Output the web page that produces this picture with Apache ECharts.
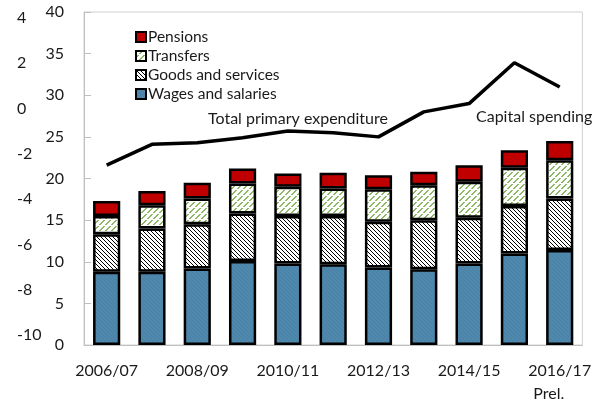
<!DOCTYPE html>
<html>
<head>
<meta charset="utf-8">
<script src="https://cdn.jsdelivr.net/npm/echarts@6/dist/echarts.min.js"></script>
<style>
  html, body { margin: 0; padding: 0; background: #fff; }
  #chart { width: 594px; height: 402px; }
</style>
</head>
<body>
<div id="chart"></div>
<script>
// Fiscal years on the category axis
const years = ['2006/07', '2007/08', '2008/09', '2009/10', '2010/11', '2011/12',
               '2012/13', '2013/14', '2014/15', '2015/16', '2016/17'];

// Spending components (stacked bars, left inner axis)
const wages     = [8.8, 8.8, 9.2, 10.1, 9.8, 9.7, 9.3, 9.1, 9.8, 11.0, 11.4];
const goods     = [4.5, 5.2, 5.3, 5.7, 5.7, 5.8, 5.5, 5.9, 5.5, 5.7, 6.2];
const transfers = [2.2, 2.8, 3.1, 3.6, 3.5, 3.3, 3.9, 4.2, 4.3, 4.6, 4.6];
const pensions  = [1.8, 1.7, 1.9, 1.8, 1.6, 1.9, 1.7, 1.6, 2.0, 2.1, 2.3];

// Total primary expenditure (line, left inner axis)
const totalPrimary = [21.6, 24.1, 24.3, 24.9, 25.7, 25.5, 25.0, 28.0, 29.0, 33.9, 31.0];

// Hatch patterns for the bar fills
function hatch(size, bg, fg, dir, width, skip) {
  const c = document.createElement('canvas');
  c.width = size; c.height = size;
  const g = c.getContext('2d');
  if (bg) { g.fillStyle = bg; g.fillRect(0, 0, size, size); }
  g.fillStyle = fg;
  for (let i = 0; i < size; i++) {
    if (skip && (i % skip === skip - 1)) continue;
    const x = dir === 'back' ? i : size - 1 - i;
    for (let w = 0; w < width; w++) g.fillRect((x + w) % size, i, 1, 1);
  }
  return { image: c, repeat: 'repeat' };
}

const wagesFill     = hatch(4, '#4f88ad', '#4a80a4', 'back', 1, 0);
const goodsFill     = hatch(4, '#ffffff', '#000000', 'back', 1, 0);
const transfersFill = hatch(6, '#ffffff', '#8db964', 'fwd', 2, 4);
const pensionsFill  = '#c00000';

const FONT = 'Lato';
const barStyle = (fill) => ({ color: fill, borderColor: '#000', borderWidth: 2.5 });

const chart = echarts.init(document.getElementById('chart'), null, { renderer: 'canvas' });

chart.setOption({
  animation: false,
  textStyle: { fontFamily: FONT, color: '#1a1a1a' },
  grid: [
    { left: 84, right: 8, top: 12, bottom: 56, show: true, borderColor: '#d0d0d0', borderWidth: 1 },
    { left: 84, right: 8, top: 18, bottom: 67 }
  ],
  legend: {
    data: ['Pensions', 'Transfers', 'Goods and services', 'Wages and salaries'],
    orient: 'vertical',
    left: 130, top: 24,
    itemWidth: 10, itemHeight: 10, itemGap: 3,
    textStyle: { fontFamily: FONT, fontSize: 15.5, color: '#1a1a1a', padding: [0, 0, 0, -3] },
    icon: 'rect'
  },
  xAxis: [
    {
      type: 'category', data: years, gridIndex: 0,
      axisLine: { lineStyle: { color: '#bfbfbf', width: 1 } },
      axisTick: { inside: true, length: 8, lineStyle: { color: '#bfbfbf' } },
      axisLabel: {
        interval: 1, margin: 18, fontSize: 16, fontFamily: FONT, color: '#1a1a1a',
        formatter: (v) => v === '2016/17' ? v + '\n{p|Prel.}' : v,
        rich: { p: { fontSize: 16, fontFamily: FONT, color: '#1a1a1a', padding: [7, 22, 0, 0] } }
      }
    },
    { type: 'category', data: years, gridIndex: 1, show: false }
  ],
  yAxis: [
    {
      type: 'value', gridIndex: 0, min: 0, max: 40, interval: 5,
      axisLine: { show: true, lineStyle: { color: '#bfbfbf' } },
      axisTick: { show: true, inside: true, length: 7, lineStyle: { color: '#bfbfbf' } },
      splitLine: { show: false },
      axisLabel: { margin: 20, fontSize: 16, fontFamily: FONT, color: '#1a1a1a' }
    },
    {
      type: 'value', gridIndex: 1, min: -10, max: 4, interval: 2,
      axisLine: { show: false }, axisTick: { show: false }, splitLine: { show: false },
      axisLabel: { align: 'left', margin: 67, fontSize: 16, fontFamily: FONT, color: '#1a1a1a' }
    }
  ],
  series: [
    { name: 'Wages and salaries', type: 'bar', stack: 'spend', data: wages,
      barWidth: '60%', itemStyle: barStyle(wagesFill) },
    { name: 'Goods and services', type: 'bar', stack: 'spend', data: goods,
      itemStyle: barStyle(goodsFill) },
    { name: 'Transfers', type: 'bar', stack: 'spend', data: transfers,
      itemStyle: barStyle(transfersFill) },
    { name: 'Pensions', type: 'bar', stack: 'spend', data: pensions,
      itemStyle: barStyle(pensionsFill) },
    { name: 'Total primary expenditure', type: 'line', data: totalPrimary,
      symbol: 'none', lineStyle: { color: '#000', width: 3.5 }, z: 5 }
  ],
  graphic: [
    { type: 'text', left: 208, top: 111,
      style: { text: 'Total primary expenditure', font: '16px ' + FONT, fill: '#1a1a1a' } },
    { type: 'text', left: 476, top: 109,
      style: { text: 'Capital spending', font: '16px ' + FONT, fill: '#1a1a1a' } }
  ]
});
</script>
</body>
</html>
